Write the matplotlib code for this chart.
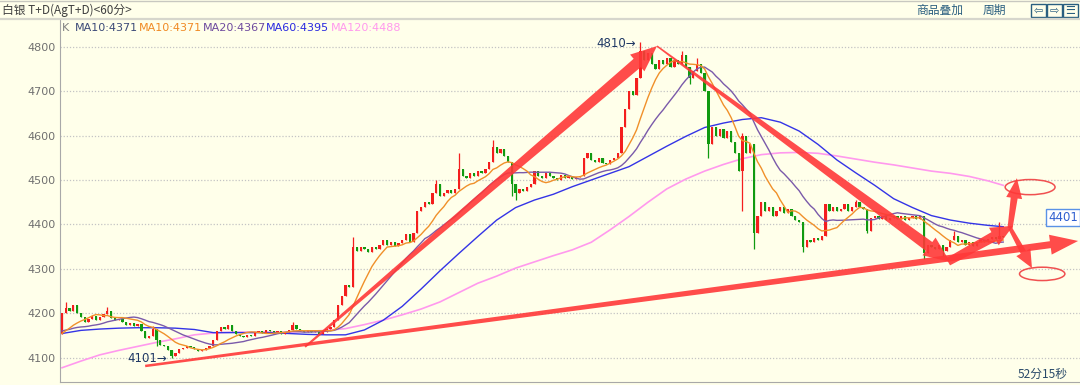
import numpy as np
import pandas as pd
import matplotlib
matplotlib.use("Agg")
import matplotlib.pyplot as plt
from matplotlib.patches import Polygon, Ellipse, Rectangle
from matplotlib.transforms import IdentityTransform

plt.rcParams['font.family'] = ['Noto Sans CJK SC', 'DejaVu Sans']

# ---- data (60-min candles, open = previous close) ----
pre_closes = [4170, 4172, 4168, 4165, 4170, 4168, 4166, 4160, 4162, 4160,
              4150, 4148, 4152, 4150, 4148, 4146, 4150, 4152, 4155]

closes = [
    4200, 4212, 4205, 4218, 4200, 4192, 4180, 4188, 4195, 4186,
    4192, 4198, 4205, 4190, 4185, 4188, 4180, 4175, 4178, 4172,
    4176, 4160, 4145, 4150, 4165, 4140, 4130, 4128, 4118, 4105,
    4112, 4120, 4122, 4128, 4125, 4120, 4115, 4118, 4122, 4128,
    4140, 4160, 4170, 4165, 4175, 4160, 4155, 4150, 4148, 4152,
    4150, 4158, 4160, 4156, 4162, 4160, 4158, 4160, 4155, 4158,
    4162, 4175, 4165, 4160, 4158, 4162, 4158, 4160, 4155, 4158,
    4165, 4170, 4185, 4220, 4240, 4265, 4260, 4350, 4340, 4350,
    4345, 4338, 4350, 4345, 4355, 4365, 4355, 4360, 4352, 4358,
    4365, 4378, 4360, 4380, 4430, 4440, 4450, 4445, 4470, 4490,
    4465, 4470, 4478, 4470, 4480, 4525, 4510, 4505, 4515, 4508,
    4520, 4515, 4525, 4540, 4575, 4560, 4570, 4555, 4540, 4490,
    4470, 4480, 4475, 4485, 4490, 4520, 4510, 4505, 4515, 4510,
    4505, 4500, 4512, 4505, 4508, 4502, 4506, 4510, 4550, 4560,
    4545, 4540, 4550, 4538, 4535, 4545, 4550, 4560, 4620, 4660,
    4700, 4690, 4730, 4790, 4770, 4785, 4760, 4750, 4770, 4760,
    4775, 4755, 4770, 4760, 4780, 4755, 4730, 4745, 4760, 4740,
    4700, 4580, 4620, 4600, 4615, 4595, 4610, 4585, 4560, 4520,
    4600, 4560, 4580, 4380, 4420, 4450, 4430, 4440, 4420, 4430,
    4440, 4425, 4435, 4420, 4410, 4405, 4350, 4365, 4360, 4370,
    4365, 4375, 4445, 4430, 4440, 4430, 4435, 4445, 4430, 4440,
    4450, 4440, 4435, 4385, 4415, 4420, 4412, 4418, 4410, 4415,
    4420, 4412, 4418, 4410, 4415, 4420, 4412, 4418, 4335, 4355,
    4350, 4345, 4355, 4340, 4350, 4365, 4375, 4360, 4365, 4355,
    4360, 4352, 4360, 4365, 4360, 4368, 4372, 4368, 4375, 4371,
]

# long wicks
spike_high = {1: 4225, 12: 4215, 24: 4172, 61: 4180, 77: 4372, 99: 4500,
              105: 4560, 114: 4590, 153: 4810, 164: 4790, 168: 4775,
              180: 4605, 210: 4455, 236: 4385, 248: 4405}
spike_low = {25: 4128, 29: 4101, 119: 4465, 120: 4455, 166: 4715,
             171: 4550, 180: 4430, 183: 4345, 196: 4338, 213: 4380,
             228: 4322, 233: 4330}

# slow averages (every 5 candles)
ma_idx = list(range(0, 250, 5)) + [249]
ma60 = [4155, 4162, 4165, 4167, 4168, 4168, 4167, 4164, 4157, 4157,
        4157, 4157, 4155, 4153, 4152, 4152, 4163, 4185, 4216, 4255,
        4296, 4335, 4373, 4410, 4438, 4455, 4468, 4485, 4500, 4515,
        4530, 4553, 4576, 4598, 4618, 4628, 4636, 4640, 4630, 4610,
        4580, 4545, 4516, 4488, 4458, 4438, 4420, 4410, 4403, 4398, 4395]
ma120 = [4078, 4093, 4107, 4117, 4126, 4135, 4143, 4152, 4156, 4158,
         4158, 4158, 4158, 4160, 4162, 4166, 4175, 4185, 4197, 4210,
         4226, 4247, 4268, 4284, 4302, 4316, 4330, 4343, 4360, 4388,
         4418, 4450, 4480, 4502, 4520, 4535, 4548, 4557, 4561, 4562,
         4560, 4554, 4547, 4540, 4534, 4527, 4520, 4515, 4508, 4498, 4488]

legend_items = [("K", "#808080"), ("MA10:4371", "#3C4A78"), ("MA10:4371", "#F08A24"),
                ("MA20:4367", "#6E4A9E"), ("MA60:4395", "#2A2AE0"), ("MA120:4488", "#FF99EE")]
legend_x = [62, 75, 139, 203, 266, 331]

# hand-drawn arrows: start, end (candle, price), tail w, shaft w, head w, head len (px)
arrows = [
    ((22.0, 4082), (268.8, 4363), 2.5, 7, 20, 28),
    ((64.3, 4125), (157.4, 4801), 2, 11, 22, 26),
    ((157.4, 4801), (234.9, 4316), 1.5, 11, 22, 26),
    ((234.4, 4316), (251.6, 4397), 8, 10, 20, 22),
    ((250.8, 4392), (252.6, 4504), 5, 7, 16, 20),
    ((250.8, 4392), (256.6, 4302), 4, 6, 16, 18),
]
circles = [((256.1, 4484), 13.2, 34), ((259.3, 4289), 12.0, 30)]

W, H = 1080, 385
BG = '#FFFFEA'
UP, DOWN = '#F41E1E', '#109A10'

fig = plt.figure(figsize=(W / 100, H / 100), dpi=100, facecolor=BG)
ax = fig.add_axes([60 / W, 3 / H, 1020 / W, 362 / H])
ax.set_facecolor(BG)
ax.set_xlim(-0.53, 269.3)
ax.set_ylim(4046, 4859.6)

# grid + y axis
ax.set_yticks(range(4100, 4801, 100))
ax.grid(axis='y', linestyle=(0, (1, 1.5)), color='#C4C4C4', lw=0.9)
ax.set_xticks([])
ax.tick_params(axis='y', length=0, pad=3, labelsize=8, labelcolor='#707070')
for lab in ax.get_yticklabels():
    lab.set_family('DejaVu Sans')
for s in ['top', 'right']:
    ax.spines[s].set_visible(False)
for s in ['left', 'bottom']:
    ax.spines[s].set_color('#A8A8A8')

# candles
opens = [pre_closes[-1]] + closes[:-1]
for i, (o, c) in enumerate(zip(opens, closes)):
    hi = spike_high.get(i, max(o, c))
    lo = spike_low.get(i, min(o, c))
    col = UP if c > o else (DOWN if c < o else '#404040')
    ax.vlines(i, lo, hi, color=col, lw=0.9, zorder=3)
    body = max(abs(c - o), 1.5)
    ax.bar(i, body, bottom=min(o, c), width=0.6, color=col, lw=0, zorder=3)

# moving averages
s = pd.Series(pre_closes + closes, dtype=float)
n0 = len(pre_closes)
ma10 = s.rolling(10).mean().iloc[n0:].values
ma20 = s.rolling(20).mean().iloc[n0:].values
idx = np.arange(len(closes))
ax.plot(ma_idx, ma120, color='#FF99EE', lw=1.2, zorder=2)
ax.plot(ma_idx, ma60, color='#3434E6', lw=1.0, zorder=2)
ax.plot(idx, ma20, color='#7A5AAA', lw=1.0, zorder=4)
ax.plot(idx, ma10, color='#F0902A', lw=1.0, zorder=4)

# labels on extremes
ax.annotate("4810→", xy=(153, 4810), xytext=(-3, -1), textcoords='offset points',
            ha='right', va='center', fontsize=8.5, color='#1F3864', family='DejaVu Sans')
ax.annotate("4101→", xy=(29, 4101), xytext=(-3, -1), textcoords='offset points',
            ha='right', va='center', fontsize=8.5, color='#1F3864', family='DejaVu Sans')
ax.text(268.8, 4401, "4401", ha='right', va='bottom', fontsize=8.5, color='#2F5FD0',
        family='DejaVu Sans',
        bbox=dict(boxstyle='square,pad=0.15', fc='#FFFFFF', ec='#5A92E6', lw=1), zorder=6)

for (cx, cy), w, h in circles:
    ax.add_patch(Ellipse((cx, cy), w, h, fc='none', ec='#F05050', lw=1.1, zorder=6))


def fat_arrow(p0, p1, w0, w1, hw, hl):
    a, b = ax.transData.transform([p0, p1])
    d = b - a
    u = d / np.hypot(*d)
    n = np.array([-u[1], u[0]])
    base = b - u * hl
    pts = [a + n * w0 / 2, base + n * w1 / 2, base + n * hw / 2, b,
           base - n * hw / 2, base - n * w1 / 2, a - n * w0 / 2]
    fig.add_artist(Polygon(pts, closed=True, transform=IdentityTransform(),
                           fc='#FF3838', ec='none', alpha=0.9, zorder=5))


for p0, p1, w0, w1, hw, hl in arrows:
    fat_arrow(p0, p1, w0, w1, hw, hl)

# header
fig.add_artist(plt.Line2D([0, 1], [1 - 19 / H, 1 - 19 / H], color='#D6D6CC', lw=1.6))
fig.add_artist(plt.Line2D([0, 1], [1 - 0.5 / H, 1 - 0.5 / H], color='#C8C8C0', lw=1))
fig.text(2 / W, 1 - 10 / H, "白银 T+D(AgT+D)<60分>", fontsize=8.5, color='#404040',
         va='center', ha='left')
fig.text(916 / W, 1 - 10 / H, "商品叠加", fontsize=8.5, color='#2A5F80', va='center')
fig.text(983 / W, 1 - 10 / H, "周期", fontsize=8.5, color='#2A5F80', va='center')
for k, g in enumerate(["⇦", "⇨", "☰"]):
    x0 = 1031 + k * 16
    fig.add_artist(Rectangle((x0 / W, 1 - 17 / H), 15 / W, 13 / H, fc='none',
                             ec='#2A5F80', lw=1))
    fig.text((x0 + 7.5) / W, 1 - 10.5 / H, g, fontsize=8, color='#2A5F80',
             ha='center', va='center', family='DejaVu Sans')

for (txt, col), x in zip(legend_items, legend_x):
    fig.text(x / W, 1 - 28 / H, txt, fontsize=8, color=col, va='center',
             family='DejaVu Sans')

fig.text(1068 / W, 1 - 374 / H, "52分15秒", fontsize=8.5, color='#2A4A6A',
         ha='right', va='center')

fig.savefig("out.png", dpi=100, facecolor=BG)
